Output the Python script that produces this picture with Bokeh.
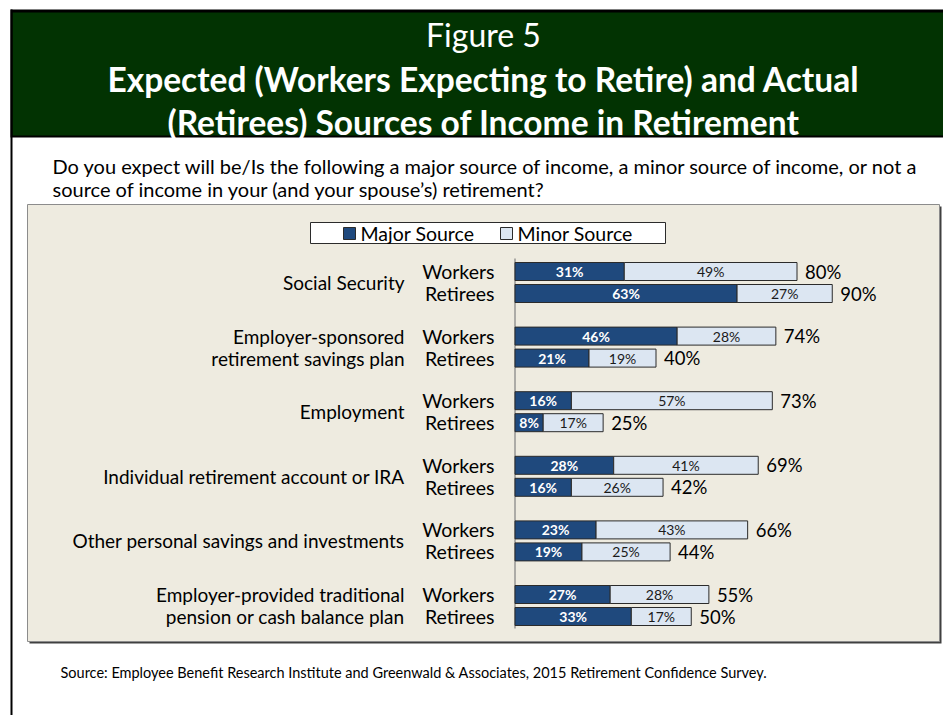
from bokeh.plotting import figure
from bokeh.models import ColumnDataSource, Range1d
from bokeh.core.properties import value
from bokeh.embed import file_html
from bokeh.resources import INLINE

# ---------------- data ----------------
categories = [
    ["Social Security"],
    ["Employer-sponsored", "retirement savings plan"],
    ["Employment"],
    ["Individual retirement account or IRA"],
    ["Other personal savings and investments"],
    ["Employer-provided traditional", "pension or cash balance plan"],
]
groups = ["Workers", "Retirees"]
workers_major = [31, 46, 16, 28, 23, 27]
workers_minor = [49, 28, 57, 41, 43, 28]
workers_total = [80, 74, 73, 69, 66, 55]
retirees_major = [63, 21, 8, 16, 19, 33]
retirees_minor = [27, 19, 17, 26, 25, 17]
retirees_total = [90, 40, 25, 42, 44, 50]
legend_labels = ["Major Source", "Minor Source"]

title_lines = ["Figure 5",
               "Expected (Workers Expecting to Retire) and Actual",
               "(Retirees) Sources of Income in Retirement"]
question_lines = ["Do you expect will be/Is the following a major source of income, a minor source of income, or not a",
                  "source of income in your (and your spouse\u2019s) retirement?"]
source_text = "Source:  Employee Benefit Research Institute and Greenwald & Associates, 2015 Retirement Confidence Survey."

# ---------------- style ----------------
FONT = value("Lato")
MAJOR = "#1F497D"
MINOR = "#DCE6F2"
EDGE = "#2b2b2b"
GREEN = "#023302"
PANEL = "#EEEBE0"

W, H = 943, 715
PX_PER_PCT = 3.525
X0 = 514.5  # x of bar origin

p = figure(width=W, height=H, output_backend="svg", toolbar_location=None,
           x_range=Range1d(0, W), y_range=Range1d(H, 0),
           x_axis_type=None, y_axis_type=None, min_border=0)
p.extra_x_ranges = {"pct": Range1d((0 - X0) / PX_PER_PCT, (W - X0) / PX_PER_PCT)}
p.grid.visible = False
p.outline_line_color = None
p.background_fill_color = "white"
p.border_fill_color = "white"

# ---------------- frame / header ----------------
p.quad(left=[10], right=[943], top=[9], bottom=[137], fill_color="black", line_color=None)
p.quad(left=[12], right=[943], top=[12], bottom=[135], fill_color=GREEN, line_color=None)
p.quad(left=[10], right=[12], top=[9], bottom=[715], fill_color="black", line_color=None)

p.text(x=[483], y=[34], text=[title_lines[0]], text_color="white", text_font=FONT,
       text_font_size="32px", text_align="center", text_baseline="middle")
p.text(x=[483, 483], y=[78, 121], text=title_lines[1:], text_color="white", text_font=FONT,
       text_font_size="33.5px", text_font_style="bold", text_align="center", text_baseline="middle")

p.text(x=[52, 52], y=[165, 188], text=question_lines, text_color="black", text_font=FONT,
       text_font_size="20px", text_align="left", text_baseline="middle")

# ---------------- panel ----------------
p.quad(left=[29], right=[941], top=[206], bottom=[643], fill_color="#404040", line_color=None)
p.quad(left=[27], right=[939], top=[204], bottom=[641], fill_color=PANEL,
       line_color="#8c8c8c", line_width=1)

# legend
p.quad(left=[310], right=[665], top=[222], bottom=[243], fill_color="white",
       line_color=EDGE, line_width=1)
p.quad(left=[343, 500], right=[355, 512], top=[227, 227], bottom=[239, 239],
       fill_color=[MAJOR, MINOR], line_color=EDGE, line_width=1)
p.text(x=[360, 517], y=[233, 233], text=legend_labels, text_color="black", text_font=FONT,
       text_font_size="19.5px", text_align="left", text_baseline="middle")

# ---------------- bars ----------------
ROW0, GSTEP, SUB, BAR_H = 271, 64.6, 22, 18

ys, majors, minors, totals, grp = [], [], [], [], []
for i in range(len(categories)):
    yw = ROW0 + GSTEP * i
    ys += [yw, yw + SUB]
    majors += [workers_major[i], retirees_major[i]]
    minors += [workers_minor[i], retirees_minor[i]]
    totals += [workers_total[i], retirees_total[i]]
    grp += groups

src = ColumnDataSource(dict(
    y=ys,
    major=majors,
    minor=minors,
    stack=[a + b for a, b in zip(majors, minors)],
    total=totals,
    zero=[0] * len(ys),
    major_mid=[a / 2 for a in majors],
    minor_mid=[a + b / 2 for a, b in zip(majors, minors)],
    major_lbl=[f"{a}%" for a in majors],
    minor_lbl=[f"{b}%" for b in minors],
    total_lbl=[f"{t}%" for t in totals],
    grp=grp,
))

# axis line
p.segment(x0=[X0], x1=[X0], y0=[258], y1=[628], line_color="#808080", line_width=1.2)

p.hbar(y="y", left="zero", right="major", height=BAR_H, source=src, x_range_name="pct",
       fill_color=MAJOR, line_color=EDGE, line_width=1)
p.hbar(y="y", left="major", right="stack", height=BAR_H, source=src, x_range_name="pct",
       fill_color=MINOR, line_color=EDGE, line_width=1)

p.text(x="major_mid", y="y", text="major_lbl", source=src, x_range_name="pct",
       text_color="white", text_font=FONT, text_font_size="14px", text_font_style="bold",
       text_align="center", text_baseline="middle")
p.text(x="minor_mid", y="y", text="minor_lbl", source=src, x_range_name="pct",
       text_color="#1a1a1a", text_font=FONT, text_font_size="14px",
       text_align="center", text_baseline="middle")
p.text(x="total", y="y", text="total_lbl", source=src, x_range_name="pct", x_offset=8,
       text_color="black", text_font=FONT, text_font_size="18.5px",
       text_align="left", text_baseline="middle")

# group labels
p.text(x=[494] * len(ys), y=ys, text=grp, text_color="black", text_font=FONT,
       text_font_size="19.5px", text_align="right", text_baseline="middle")

# category labels
cy, ct = [], []
for i, lines in enumerate(categories):
    yw = ROW0 + GSTEP * i
    if len(lines) == 1:
        cy.append(yw + SUB / 2); ct.append(lines[0])
    else:
        cy += [yw, yw + SUB]; ct += lines
cx = [404] * len(ct)
p.text(x=cx, y=cy, text=ct, text_color="black", text_font=FONT,
       text_font_size="19px", text_align="right", text_baseline="middle")

# source
p.text(x=[60], y=[672], text=[source_text], text_color="black", text_font=FONT,
       text_font_size="14.5px", text_align="left", text_baseline="middle")

open("out.html", "w").write(file_html(p, INLINE))
